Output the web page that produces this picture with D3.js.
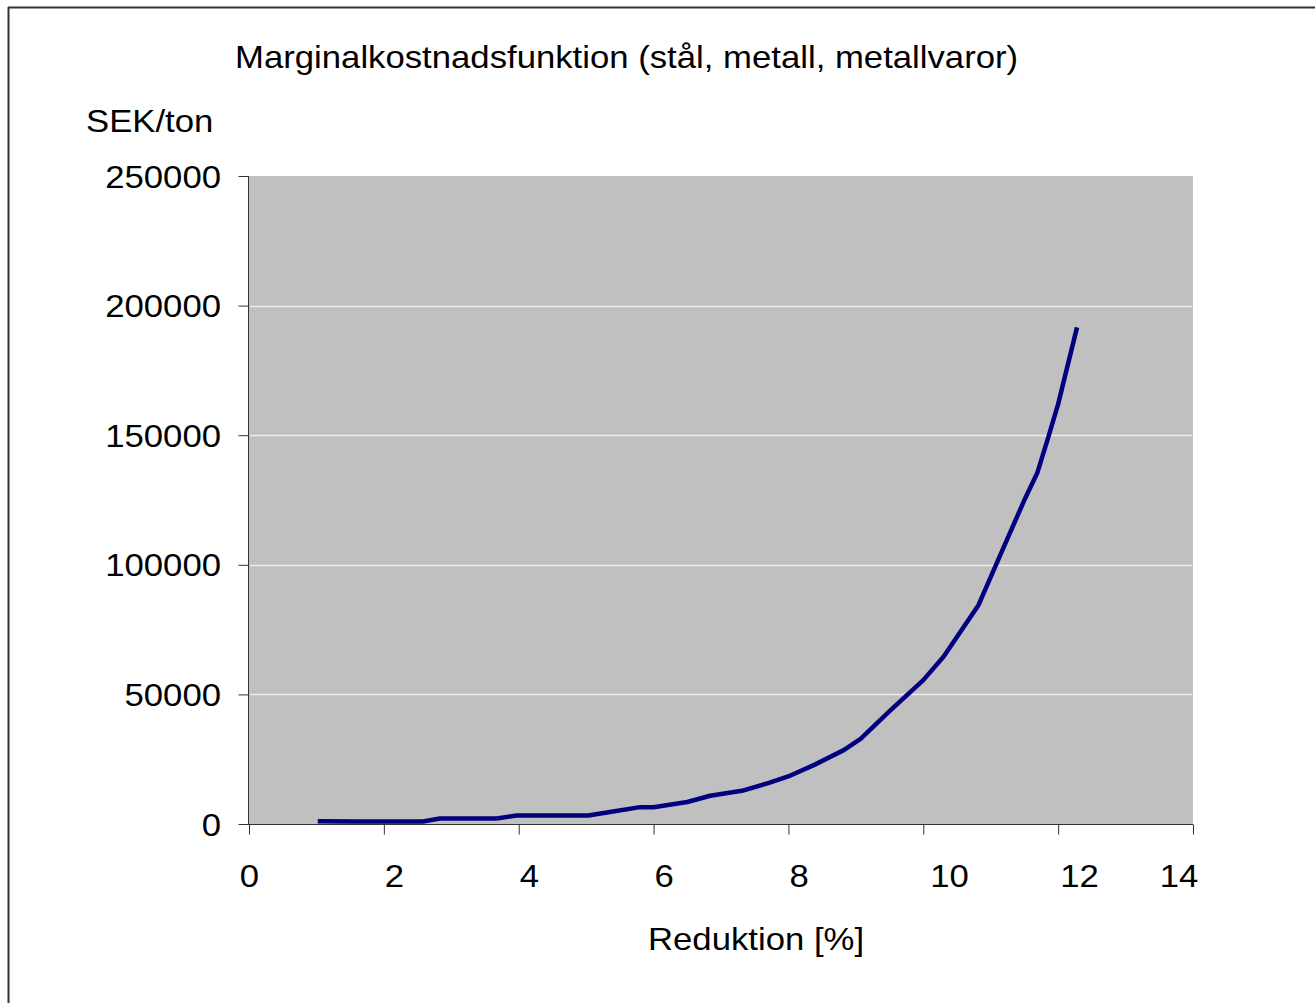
<!DOCTYPE html>
<html>
<head>
<meta charset="utf-8">
<script src="https://cdn.jsdelivr.net/npm/d3@7"></script>
<style>
  html, body { margin: 0; padding: 0; background: #fff; }
  svg { display: block; }
  text { font-family: "Liberation Sans", Arial, sans-serif; fill: #000; }
</style>
</head>
<body>
<svg id="chart" width="1315" height="1003"></svg>
<script>
// ---- Data ----
const reduction = [1.02, 1.55, 2.0, 2.58, 2.83, 3.67, 3.97, 5.03, 5.4, 5.8, 6.0, 6.5, 6.84, 7.31, 7.7, 8.03, 8.4, 8.82, 9.07, 9.5, 10.0, 10.3, 10.82, 11.24, 11.51, 11.69, 11.84, 12.0, 12.28];
const cost = [1100, 1000, 1000, 1000, 2100, 2100, 3300, 3300, 4800, 6500, 6500, 8500, 10900, 12800, 15800, 18700, 23000, 28500, 32800, 43500, 55500, 64500, 84500, 109600, 125600, 135400, 148000, 162000, 191600];
const xTicks = [0, 2, 4, 6, 8, 10, 12, 14];
const yTicks = [0, 50000, 100000, 150000, 200000, 250000];
const titleText = "Marginalkostnadsfunktion (stål, metall, metallvaror)";
const yTitle = "SEK/ton";
const xTitle = "Reduktion [%]";

// ---- Layout ----
const svg = d3.select("#chart");
const pLeft = 249, pRight = 1193, pTop = 176, pBottom = 824;
const SX = 1.085; // horizontal glyph stretch to match reference font rendering

const x = d3.scaleLinear().domain([0, 14]).range([pLeft, pRight]);
const y = d3.scaleLinear().domain([0, 250000]).range([pBottom, pTop]);

function addText(parent, tx, ty, str, anchor) {
  return parent.append("text")
    .attr("transform", `translate(${tx},${ty}) scale(${SX},1)`)
    .attr("text-anchor", anchor || "start")
    .attr("font-size", 32)
    .text(str);
}

// frame
svg.append("line").attr("x1", 8).attr("x2", 1315).attr("y1", 7.5).attr("y2", 7.5)
  .attr("stroke", "#333").attr("stroke-width", 2);
svg.append("line").attr("x1", 8.5).attr("x2", 8.5).attr("y1", 7).attr("y2", 1003)
  .attr("stroke", "#333").attr("stroke-width", 2);

// plot background
svg.append("rect").attr("x", pLeft).attr("y", pTop)
  .attr("width", pRight - pLeft).attr("height", pBottom - pTop).attr("fill", "#c0c0c0");

// gridlines
svg.append("g").selectAll("line").data(yTicks.filter(d => d > 0 && d < 250000)).join("line")
  .attr("x1", pLeft + 1).attr("x2", pRight - 1)
  .attr("y1", d => Math.round(y(d)) + 0.5).attr("y2", d => Math.round(y(d)) + 0.5)
  .attr("stroke", "#ececec").attr("stroke-width", 1.5);

// Y axis
const yAxis = d3.axisLeft(y).tickValues(yTicks).tickSize(10).tickFormat("");
const gy = svg.append("g").attr("transform", `translate(${pLeft - 0.5},0)`).call(yAxis);
gy.select(".domain").attr("stroke", "#333").attr("d", `M0,${pTop}V${pBottom}`);
gy.selectAll(".tick line").attr("stroke", "#333");
const gyl = svg.append("g");
yTicks.forEach(d => addText(gyl, 221, y(d) + 11.5, d3.format("d")(d), "end"));

// X axis
const xAxis = d3.axisBottom(x).tickValues(xTicks).tickSize(10).tickFormat("");
const gx = svg.append("g").attr("transform", `translate(0,${pBottom + 0.5})`).call(xAxis);
gx.select(".domain").attr("stroke", "#333").attr("d", `M${pLeft - 10},0H${pRight}`);
gx.selectAll(".tick line").attr("stroke", "#333");
const gxl = svg.append("g");
xTicks.forEach((d, i) => {
  if (i === 0) addText(gxl, x(d) + 0.5, 887, String(d), "middle");
  else if (i === xTicks.length - 1) addText(gxl, x(d) - 14, 887, String(d), "middle");
  else addText(gxl, x(d) + (d === 10 ? 7 : d === 12 ? 2 : 1), 887, String(d), "start");
});

// line
const line = d3.line().x((d, i) => x(reduction[i])).y(d => y(d));
svg.append("path").datum(cost)
  .attr("d", line)
  .attr("fill", "none").attr("stroke", "#000080").attr("stroke-width", 4.5)
  .attr("stroke-linejoin", "round");

// titles
addText(svg, 235, 68, titleText, "start");
addText(svg, 86, 132, yTitle, "start");
addText(svg, 756, 950, xTitle, "middle");
</script>
</body>
</html>
